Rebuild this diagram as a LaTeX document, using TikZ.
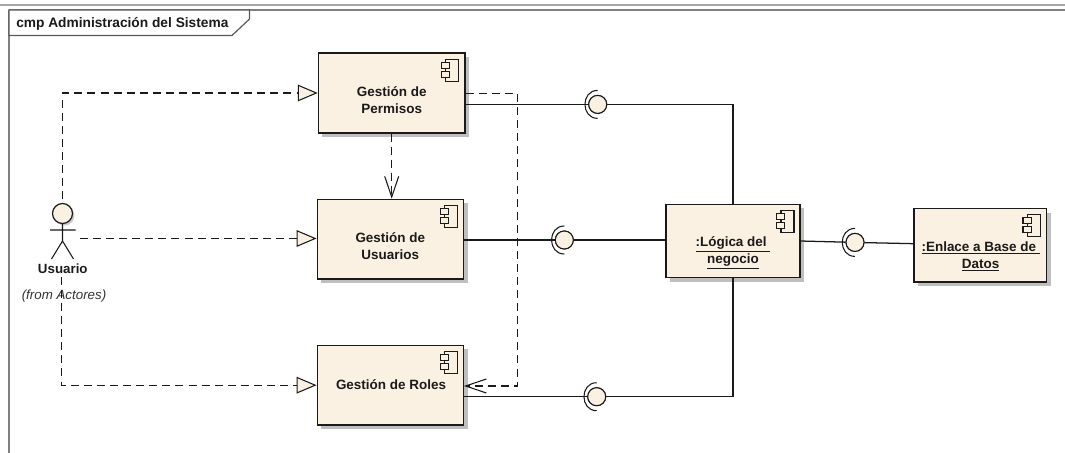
\documentclass[tikz,border=0pt]{standalone}
\usepackage{fontspec}
\setmainfont{Liberation Sans}
\usetikzlibrary{arrows.meta,shadows,calc}
\definecolor{compfill}{HTML}{FBF1E3}
\definecolor{ink}{HTML}{1A1A1A}
\tikzset{
  px/.style={x=0.75pt,y=-0.75pt},
  comp/.style={draw=ink,line width=1pt,fill=compfill,rectangle,inner sep=0pt,
    general shadow={shadow xshift=3pt,shadow yshift=-3pt,fill=black!25}},
  boxtext/.style={font=\bfseries\fontsize{10.1}{12.8}\selectfont,align=center,inner sep=0pt,text=ink},
  small/.style={draw=ink,line width=0.8pt,fill=compfill},
  dep/.style={draw=ink,line width=0.9pt,dash pattern=on 6pt off 3.8pt},
  real/.style={-{Triangle[length=15pt,width=12.5pt,fill=compfill,line width=0.8pt]}},
  opentip/.style={-{Straight Barb[length=15.5pt,width=10.5pt,line width=0.8pt]}},
  wire/.style={draw=ink,line width=0.95pt},
  ball/.style={circle,draw=ink,line width=0.8pt,fill=compfill,minimum size=13.5pt,inner sep=0pt},
  frameline/.style={draw=black!50,line width=1.2pt},
}
\newcommand{\compicon}[1]{%
  \draw[small,fill=none] ($(#1.north east)+(-19.7,6.7)$) rectangle ($(#1.north east)+(-6.7,28.7)$);
  \draw[small] ($(#1.north east)+(-24.4,9.7)$) rectangle ($(#1.north east)+(-16,15.7)$);
  \draw[small] ($(#1.north east)+(-24.4,18.7)$) rectangle ($(#1.north east)+(-16,24.7)$);
}
\begin{document}
\begin{tikzpicture}[px]
\useasboundingbox (0,0) rectangle (1065,453);
% outer lines
\draw[draw=black!35,line width=1.5pt] (0,5) -- (1065,5);
\draw[draw=black!50,line width=1.5pt] (9,10) -- (1065,10);
\draw[frameline] (9,10) -- (9,453);
\draw[draw=black!65,line width=0.9pt,fill=white] (9,10) -- (249.5,10) -- (249.5,19) -- (232,35.5) -- (9,35.5) -- cycle;
\node[anchor=west,inner sep=0pt,font=\bfseries\fontsize{10.3}{12}\selectfont,text=ink] (title) at (16,24) {cmp Administración del Sistema};

% components
\node[comp,minimum width=109.9pt,minimum height=59.8pt] (perm) at (391.7,93) {};
\node[comp,minimum width=109.9pt,minimum height=59.8pt] (usu) at (390.5,239.2) {};
\node[comp,minimum width=109.9pt,minimum height=59.8pt] (rol) at (390.5,385.2) {};
\node[comp,minimum width=100.5pt,minimum height=55pt] (log) at (733,241) {};
\node[comp,minimum width=99.5pt,minimum height=55pt] (enl) at (980.4,245.2) {};
\compicon{perm}\compicon{usu}\compicon{rol}\compicon{log}\compicon{enl}

\node[boxtext] (permt) at (391.7,100) {Gestión de\\Permisos};
\node[boxtext] (usut) at (390.3,246) {Gestión de\\Usuarios};
\node[boxtext] (rolt) at (391,384.3) {Gestión de Roles};
\node[boxtext] (logt) at (733,252.5) {\underline{:Lógica del\ }\\\underline{negocio}};
\node[boxtext] (enlt) at (980.7,256.2) {\underline{:Enlace a Base de\ }\\\underline{Datos}};

% actor
\node[circle,draw=ink,line width=0.9pt,fill=compfill,minimum size=15pt,inner sep=0pt,
  general shadow={shadow xshift=1.5pt,shadow yshift=-1.5pt,fill=black!20}] (head) at (62.5,213.5) {};
\coordinate (hip) at (62.5,241);
\coordinate (armL) at (50,230);
\coordinate (armR) at (75.5,230);
\coordinate (legL) at (51.5,259);
\coordinate (legR) at (73.5,259);
\draw[draw=ink,line width=0.8pt] (head.south) -- (hip) (armL) -- (armR) (legL) -- (hip) -- (legR);
\node[inner sep=0pt,font=\bfseries\fontsize{10}{12}\selectfont,text=ink] (actor) at (62.8,268.5) {Usuario};
\node[inner sep=0pt,font=\itshape\fontsize{10}{12}\selectfont,text=black!80] (from) at (64,296.5) {(from Actores)};

% realisations
\coordinate (a1) at (62.8,199);
\coordinate (a2) at (80,238.5);
\coordinate (a3) at (61.5,277);
\draw[dep,real] (a1) |- (perm.west);
\draw[dep,real] (a2) -- (usu.west |- a2);
\draw[dep,real] (a3) |- (rol.west);

% dependencies
\draw[dep,opentip] (perm.south) -- (usu.north -| perm.south);
\coordinate (turn) at (517.5,93.7);
\coordinate (rolDep) at (464,386);
\draw[dep,opentip] (perm.east |- turn) -- (turn) |- (rolDep);

% assemblies
\node[ball] (b1) at (597.7,104.4) {};
\node[ball] (b2) at (564.3,240) {};
\node[ball] (b3) at (596.7,396.7) {};
\node[ball] (b4) at (855,242.4) {};
\draw[wire] (perm.east |- b1) -- (b1) (b1) -| (log.north);
\draw[wire] (usu.east |- b2) -- (b2) (b2) -- (log.west |- b2);
\draw[wire] (rol.east |- b3) -- (b3) (b3) -| (log.south);
\coordinate (l4) at (800.2,241);
\coordinate (e4) at (914,243.7);
\draw[wire] (l4) -- (b4) -- (e4);
\foreach \b in {b1,b2,b3,b4}{
  \node[ball] at (\b) {};
  \draw[draw=ink,line width=0.8pt] ($(\b)+(0,-14)$) .. controls ($(\b)+(-17,-14)$) and ($(\b)+(-17,14)$) .. ($(\b)+(0,14)$);
}
\end{tikzpicture}
\end{document}
